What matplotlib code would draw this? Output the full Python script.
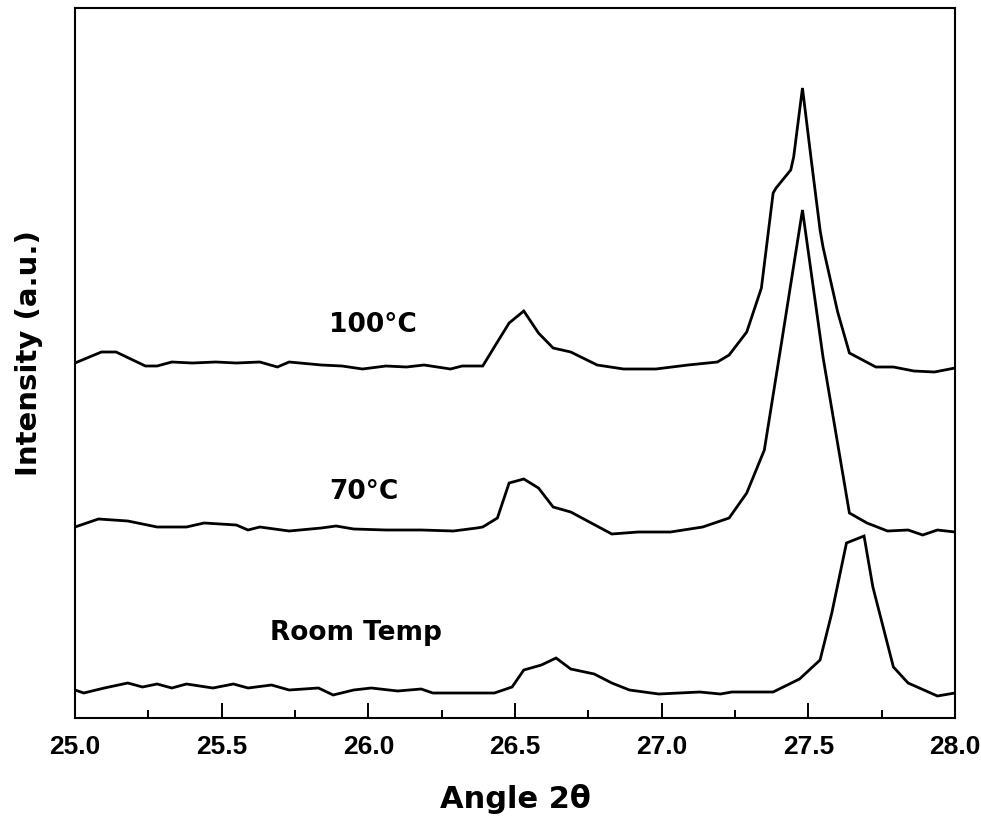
import matplotlib
matplotlib.use("Agg")
import matplotlib.pyplot as plt
from matplotlib.ticker import MultipleLocator, FormatStrFormatter

plt.rcParams['font.family'] = ['DejaVu Sans']
plt.rcParams['font.weight'] = 'bold'

# Room temperature pattern (2theta, intensity a.u.)
rt_angle = [25.00, 25.03, 25.10, 25.18, 25.23, 25.28, 25.33, 25.38, 25.47, 25.54,
            25.59, 25.67, 25.73, 25.83, 25.88, 25.95, 26.01, 26.10, 26.18, 26.22,
            26.43, 26.49, 26.53, 26.59, 26.64, 26.69, 26.77, 26.83, 26.89, 26.99,
            27.13, 27.20, 27.24, 27.38, 27.47, 27.54, 27.58, 27.63, 27.69, 27.72,
            27.79, 27.84, 27.94, 28.00]
rt_int = [28, 25, 30, 35, 31, 34, 30, 34, 30, 34,
          30, 33, 28, 30, 23, 28, 30, 27, 29, 25,
          25, 31, 48, 53, 60, 49, 44, 35, 28, 24,
          26, 24, 26, 26, 39, 58, 105, 175, 182, 131,
          51, 35, 22, 25]

# 70 C pattern
t70_angle = [25.00, 25.08, 25.18, 25.28, 25.38, 25.44, 25.55, 25.59, 25.63, 25.73,
             25.84, 25.89, 25.95, 26.06, 26.18, 26.29, 26.37, 26.39, 26.44, 26.48,
             26.53, 26.58, 26.63, 26.69, 26.83, 26.92, 27.03, 27.14, 27.23, 27.29,
             27.35, 27.41, 27.48, 27.55, 27.64, 27.70, 27.77, 27.84, 27.89, 27.94,
             28.00]
t70_int = [191, 199, 197, 191, 191, 195, 193, 188, 191, 187,
           190, 192, 189, 188, 188, 187, 190, 191, 200, 235,
           239, 230, 211, 206, 184, 186, 186, 191, 200, 225,
           268, 378, 508, 361, 205, 195, 187, 188, 183, 188,
           186]

# 100 C pattern
t100_angle = [25.00, 25.09, 25.14, 25.24, 25.28, 25.33, 25.40, 25.48, 25.55, 25.63,
              25.69, 25.73, 25.84, 25.91, 25.98, 26.06, 26.13, 26.19, 26.28, 26.32,
              26.39, 26.44, 26.48, 26.53, 26.58, 26.63, 26.69, 26.78, 26.87, 26.98,
              27.09, 27.19, 27.23, 27.29, 27.34, 27.38, 27.39, 27.44, 27.45, 27.48,
              27.51, 27.54, 27.55, 27.60, 27.64, 27.73, 27.79, 27.86, 27.93, 28.00]
t100_int = [355, 366, 366, 352, 352, 356, 355, 356, 355, 356,
            351, 356, 353, 352, 349, 352, 351, 353, 349, 352,
            352, 376, 395, 407, 385, 370, 366, 353, 349, 349,
            353, 356, 363, 386, 430, 525, 530, 548, 561, 630,
            558, 488, 471, 406, 365, 351, 351, 347, 346, 350]

series = [(rt_angle, rt_int), (t70_angle, t70_int), (t100_angle, t100_int)]
labels = ["Room Temp", "70°C", "100°C"]
label_pos = [(25.665, 78), (25.866, 219), (25.866, 386)]

xticks = [25.0, 25.5, 26.0, 26.5, 27.0, 27.5, 28.0]

fig = plt.figure(figsize=(9.81, 8.22), dpi=100)
ax = fig.add_axes([75/981, 1 - 718/822, 880/981, 710/822])

for (a, i) in series:
    ax.plot(a, i, color='black', lw=2.0, solid_joinstyle='miter')

for lab, (x, y) in zip(labels, label_pos):
    ax.text(x, y, lab, fontsize=19, fontweight='bold', ha='left', va='baseline')

ax.set_xlim(25.0, 28.0)
ax.set_ylim(0, 710)
ax.set_xticks(xticks)
ax.xaxis.set_major_formatter(FormatStrFormatter('%.1f'))
ax.xaxis.set_minor_locator(MultipleLocator(0.25))
ax.tick_params(axis='x', which='major', direction='in', length=11, width=1.4,
               labelsize=19, pad=12)
ax.tick_params(axis='x', which='minor', direction='in', length=6, width=1.4)
ax.tick_params(axis='y', left=False, labelleft=False, which='both')
for lbl in ax.get_xticklabels():
    lbl.set_fontweight('bold')
    lbl.set_family(['Liberation Sans', 'DejaVu Sans'])
for s in ax.spines.values():
    s.set_linewidth(1.5)

ax.set_xlabel("Angle 2θ", fontsize=22, fontweight='bold', labelpad=18)
ax.set_ylabel("Intensity (a.u.)", fontsize=21, fontweight='bold')
ax.yaxis.set_label_coords(-0.0364, 0.514)

fig.savefig("out.png", dpi=100)
